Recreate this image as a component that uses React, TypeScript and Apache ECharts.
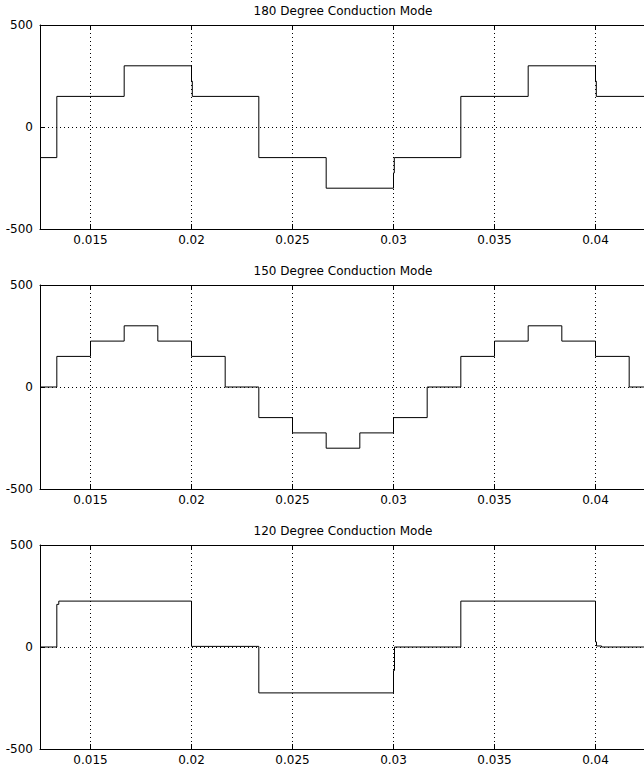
import React, { useEffect, useRef } from "react";
import * as echarts from "echarts";

const xMin = 0.0125;
const xMax = 0.0425;
const xTicks = [0.015, 0.02, 0.025, 0.03, 0.035, 0.04];
const yMin = -500;
const yMax = 500;
const yStep = 500;

const titles = [
  "180 Degree Conduction Mode",
  "150 Degree Conduction Mode",
  "120 Degree Conduction Mode",
];

// 180 degree: switching instants and the level held after each instant
const t180 = [0.0125, 0.013333, 0.016667, 0.02, 0.02004, 0.023333, 0.026667, 0.03, 0.03004, 0.033333, 0.036667, 0.04, 0.04004, 0.0425];
const v180 = [-150, 150, 300, 225, 150, -150, -300, -225, -150, 150, 300, 225, 150, 150];

// 150 degree
const t150 = [0.0125, 0.013333, 0.015, 0.016667, 0.018333, 0.02, 0.021667, 0.023333, 0.025, 0.026667, 0.028333, 0.03, 0.031667, 0.033333, 0.035, 0.036667, 0.038333, 0.04, 0.041667, 0.0425];
const v150 = [0, 150, 225, 300, 225, 150, 0, -150, -225, -300, -225, -150, 0, 150, 225, 300, 225, 150, 0, 0];

// 120 degree
const t120 = [0.0125, 0.013333, 0.01343, 0.02, 0.023333, 0.03, 0.03005, 0.033333, 0.04, 0.04005, 0.0403, 0.0425];
const v120 = [0, 209, 225, 3, -225, -115, 0, 225, 25, 5, 0, 0];

const FONT = "DejaVu Sans";
const gridTops = [25, 285, 545];
const gridHeight = 204;
const gridLeft = 40;
const gridWidth = 606;

function pairs(ts: number[], vs: number[]) {
  return ts.map((t, i) => [t, vs[i]]);
}

const seriesData = [pairs(t180, v180), pairs(t150, v150), pairs(t120, v120)];

function xLabel(v: number) {
  const hit = xTicks.find((t) => Math.abs(t - v) < 1e-9);
  return hit === undefined ? "" : String(hit);
}

export default function App() {
  const ref = useRef<HTMLDivElement>(null);

  useEffect(() => {
    if (!ref.current) return;
    const chart = echarts.init(ref.current, null, { renderer: "svg" });

    const dotted = { type: [1, 3] as any, color: "#000", width: 1 };
    const solid = { color: "#000", width: 1 };
    const textStyle = { fontFamily: FONT, fontSize: 12, color: "#000" };

    const grid: any[] = [];
    const xAxis: any[] = [];
    const yAxis: any[] = [];
    const series: any[] = [];
    const title: any[] = [];

    gridTops.forEach((top, i) => {
      grid.push({ left: gridLeft, top, width: gridWidth, height: gridHeight, containLabel: false });
      xAxis.push({
        type: "value",
        gridIndex: i,
        position: "bottom",
        min: xMin,
        max: xMax,
        axisLine: { show: true, onZero: false, lineStyle: solid },
        axisTick: { show: true, inside: true, length: 5, customValues: xTicks, lineStyle: solid },
        axisLabel: { show: true, margin: 5, customValues: xTicks, formatter: xLabel, ...textStyle },
        splitLine: { show: true, lineStyle: dotted },
      });
      xAxis.push({
        type: "value",
        gridIndex: i,
        position: "top",
        min: xMin,
        max: xMax,
        axisLine: { show: true, onZero: false, lineStyle: solid },
        axisTick: { show: true, inside: true, length: 5, customValues: xTicks, lineStyle: solid },
        axisLabel: { show: false },
        splitLine: { show: false },
      });
      yAxis.push({
        type: "value",
        gridIndex: i,
        min: yMin,
        max: yMax,
        interval: yStep,
        axisLine: { show: true, onZero: false, lineStyle: solid },
        axisTick: { show: true, inside: true, length: 5, lineStyle: solid },
        axisLabel: { show: true, margin: 7, ...textStyle },
        splitLine: { show: true, lineStyle: dotted },
      });
      series.push({
        type: "line",
        xAxisIndex: 2 * i,
        yAxisIndex: i,
        data: seriesData[i],
        step: "end",
        showSymbol: false,
        symbol: "none",
        silent: true,
        lineStyle: { color: "#000", width: 1 },
      });
      title.push({
        text: titles[i],
        left: gridLeft + gridWidth / 2,
        top: top - 20,
        textAlign: "center",
        textStyle: { fontFamily: FONT, fontSize: 12, fontWeight: "normal", color: "#000" },
        padding: 0,
      });
    });

    chart.setOption({
      animation: false,
      backgroundColor: "#fff",
      title,
      grid,
      xAxis,
      yAxis,
      series,
    });

    return () => chart.dispose();
  }, []);

  return (
    <div
      style={{
        position: "fixed",
        left: 0,
        top: 0,
        width: 644,
        height: 767,
        overflow: "hidden",
        background: "#fff",
      }}
    >
      <div ref={ref} style={{ width: 650, height: 767 }} />
    </div>
  );
}
